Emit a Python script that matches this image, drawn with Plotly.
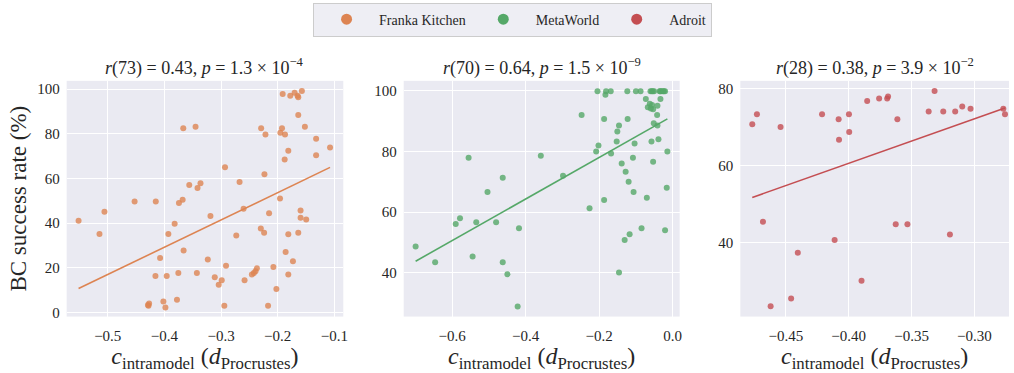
import numpy as np
import plotly.graph_objects as go

# ---------------- data ----------------
franka_x = [-0.5515, -0.5146, -0.5058, -0.4526, -0.4152, -0.4158, -0.428, -0.429, -0.427, -0.4076,
            -0.4018, -0.3982, -0.3959, -0.393, -0.3819, -0.3778, -0.3754, -0.3743, -0.3678, -0.3661,
            -0.3667, -0.3561, -0.345, -0.3427, -0.3415, -0.3363, -0.3234, -0.3187, -0.3111, -0.3041,
            -0.2988, -0.2942, -0.293, -0.2912, -0.2731, -0.2673, -0.2602, -0.2585, -0.2456, -0.2421,
            -0.2392, -0.2368, -0.2298, -0.2292, -0.224, -0.2234, -0.2216, -0.217, -0.2152, -0.2076,
            -0.2023, -0.1959, -0.1953, -0.1924, -0.1912, -0.1877, -0.1871, -0.186, -0.1813, -0.1813,
            -0.1813, -0.1778, -0.1731, -0.1702, -0.1649, -0.1637, -0.1637, -0.1637, -0.1596, -0.1596,
            -0.1573, -0.152, -0.1497, -0.1322, -0.1322, -0.1076]
franka_y = [41.0, 35.1, 45.0, 49.6, 49.6, 16.3, 3.0, 3.3, 3.9, 24.3,
            4.9, 2.2, 16.3, 35.1, 39.7, 5.6, 17.6, 49.0, 50.4, 27.7,
            82.5, 57.0, 83.1, 17.6, 55.7, 57.8, 23.7, 43.1, 15.7, 12.3,
            14.4, 3.0, 65.0, 20.9, 34.4, 58.4, 46.4, 14.4, 16.9, 17.6,
            18.4, 19.7, 37.6, 82.5, 35.7, 61.8, 79.7, 3.0, 44.4, 20.3,
            10.4, 51.0, 80.4, 82.4, 97.8, 68.4, 79.7, 27.0, 72.4, 35.0,
            16.9, 97.0, 22.9, 98.4, 97.0, 96.3, 88.4, 35.7, 45.6, 42.4,
            99.1, 83.1, 41.6, 77.8, 70.4, 73.8]

meta_x = [-0.6991, -0.646, -0.59, -0.5784, -0.555, -0.5441, -0.5342, -0.5036, -0.4802, -0.4622,
          -0.4622, -0.4495, -0.4216, -0.418, -0.3586, -0.2982, -0.2477, -0.2261, -0.2081, -0.2045,
          -0.2018, -0.1865, -0.1865, -0.1829, -0.1811, -0.1685, -0.1676, -0.1523, -0.1505, -0.146,
          -0.146, -0.1387, -0.1306, -0.1279, -0.1234, -0.1225, -0.1198, -0.1171, -0.1081, -0.1063,
          -0.1036, -0.1, -0.0874, -0.0847, -0.073, -0.0703, -0.0676, -0.0622, -0.0604, -0.0595,
          -0.0577, -0.0559, -0.0541, -0.0532, -0.0532, -0.0514, -0.0505, -0.0423, -0.0414, -0.0414,
          -0.0387, -0.0351, -0.0333, -0.0306, -0.0261, -0.0207, -0.0207, -0.0162, -0.0144, -0.057,
          -0.034, -0.024]
meta_y = [48.7, 43.5, 56.1, 58.0, 77.9, 45.4, 56.7, 66.6, 56.7, 71.3,
          43.5, 39.5, 28.9, 54.7, 78.6, 72.0, 92.0, 61.3, 80.0, 99.9,
          82.0, 64.0, 90.7, 98.7, 99.9, 99.9, 79.3, 83.3, 86.6, 88.6,
          40.1, 76.0, 50.8, 73.3, 99.9, 90.7, 70.0, 52.7, 77.9, 66.6,
          82.6, 99.9, 99.9, 54.7, 97.3, 64.7, 94.6, 95.7, 99.9, 94.2,
          83.3, 95.3, 99.9, 93.9, 76.6, 89.3, 99.9, 92.0, 95.1, 88.6,
          84.0, 99.9, 97.3, 99.9, 99.9, 99.9, 54.0, 68.0, 80.0, 99.9,
          99.9, 99.9]

adroit_x = [-0.4767, -0.473, -0.4682, -0.4621, -0.4542, -0.4458, -0.4405, -0.4212, -0.4112, -0.408,
            -0.4077, -0.3998, -0.3996, -0.3898, -0.3853, -0.3758, -0.3694, -0.3687, -0.3626, -0.3613,
            -0.3533, -0.3364, -0.3317, -0.3248, -0.3195, -0.3153, -0.3097, -0.3031, -0.277, -0.2757]
adroit_y = [70.7, 73.3, 45.4, 23.5, 70.0, 25.5, 37.4, 73.3, 40.7, 72.0,
            66.7, 73.3, 68.7, 30.1, 76.7, 77.4, 77.4, 77.9, 44.8, 72.0,
            44.8, 74.0, 79.3, 74.0, 42.1, 74.0, 75.3, 74.7, 74.7, 73.3]

series_names = ["Franka Kitchen", "MetaWorld", "Adroit"]
titles = ["<i>r</i>(73) = 0.43, <i>p</i> = 1.3 × 10<sup>−4</sup>",
          "<i>r</i>(70) = 0.64, <i>p</i> = 1.5 × 10<sup>−9</sup>",
          "<i>r</i>(28) = 0.38, <i>p</i> = 3.9 × 10<sup>−2</sup>"]
x_ticks = [[-0.5, -0.4, -0.3, -0.2, -0.1],
           [-0.6, -0.4, -0.2, 0.0],
           [-0.45, -0.40, -0.35, -0.30]]
x_tickfmt = [".1f", ".1f", ".2f"]
y_ticks = [[0, 20, 40, 60, 80, 100],
           [40, 60, 80, 100],
           [40, 60, 80]]

# ---------------- style ----------------
colors = ["#DD8452", "#55A868", "#C44E52"]
FONT = "Liberation Serif"
TXT = "#262626"
x_ranges = [[-0.5725, -0.0842], [-0.7315, 0.0189], [-0.4862, -0.2725]]
y_ranges = [[-1.9, 103.7], [25.56, 103.3], [20.85, 81.95]]
x_domains = [[67 / 1014, 345 / 1014], [405.7 / 1014, 683 / 1014], [744 / 1014, 1.0]]
y_domain = [1 - 320 / 373, 1 - 81.7 / 373]

data = [(franka_x, franka_y), (meta_x, meta_y), (adroit_x, adroit_y)]

fig = go.Figure()
for i, (xs, ys) in enumerate(data):
    xa = "x" if i == 0 else f"x{i+1}"
    ya = "y" if i == 0 else f"y{i+1}"
    fig.add_trace(go.Scatter(x=xs, y=ys, mode="markers", xaxis=xa, yaxis=ya,
                             marker=dict(color=colors[i], size=6, opacity=0.8, line=dict(width=0)),
                             showlegend=False, hoverinfo="skip"))
    xarr = np.array(xs)
    yarr = np.array(ys)
    slope, icpt = np.polyfit(xarr, yarr, 1)
    lx = np.array([xarr.min(), xarr.max()])
    fig.add_trace(go.Scatter(x=lx, y=slope * lx + icpt, mode="lines", xaxis=xa, yaxis=ya,
                             line=dict(color=colors[i], width=1.6), showlegend=False,
                             hoverinfo="skip"))

# legend-only entries with larger symbols
for i, name in enumerate(series_names):
    fig.add_trace(go.Scatter(x=[None], y=[None], mode="markers", name=name,
                             marker=dict(color=colors[i], size=11), showlegend=True))

layout = dict(
    width=1014, height=373,
    margin=dict(l=0, r=0, t=0, b=0),
    paper_bgcolor="white",
    plot_bgcolor="#EAEAF2",
    font=dict(family=FONT, color=TXT, size=14),
    legend=dict(orientation="h", x=0.508, xanchor="center", y=0.993, yanchor="top",
                bgcolor="#EEEEF4", bordercolor="#CCCCCC", borderwidth=1,
                font=dict(family=FONT, size=14, color=TXT),
                entrywidth=0, itemwidth=55, tracegroupgap=0),
    annotations=[],
)

for i in range(3):
    sx = "" if i == 0 else str(i + 1)
    layout[f"xaxis{sx}"] = dict(
        domain=x_domains[i], range=x_ranges[i], anchor=f"y{sx}",
        tickvals=x_ticks[i], tickformat=x_tickfmt[i],
        showgrid=True, gridcolor="white", gridwidth=1, zeroline=False,
        showline=False, ticks="", tickfont=dict(size=15, family=FONT, color=TXT),
        ticklabelstandoff=8,
        title=dict(text="<i>c</i><sub>intramodel</sub> (<i>d</i><sub>Procrustes</sub>)",
                   font=dict(size=24, family=FONT, color=TXT), standoff=2),
    )
    ydict = dict(
        domain=y_domain, range=y_ranges[i], anchor=f"x{sx}",
        tickvals=y_ticks[i],
        showgrid=True, gridcolor="white", gridwidth=1, zeroline=False,
        showline=False, ticks="", tickfont=dict(size=15, family=FONT, color=TXT),
        ticklabelstandoff=6,
    )
    if i == 0:
        ydict["title"] = dict(text="BC success rate (%)",
                              font=dict(size=23, family=FONT, color=TXT), standoff=4)
    layout[f"yaxis{sx}"] = ydict
    layout["annotations"].append(dict(
        text=titles[i], xref="paper", yref="paper",
        x=(x_domains[i][0] + x_domains[i][1]) / 2, y=y_domain[1],
        xanchor="center", yanchor="bottom", yshift=0, showarrow=False,
        font=dict(size=18, family=FONT, color=TXT)))

fig.update_layout(**layout)
fig.write_html("out.html")
